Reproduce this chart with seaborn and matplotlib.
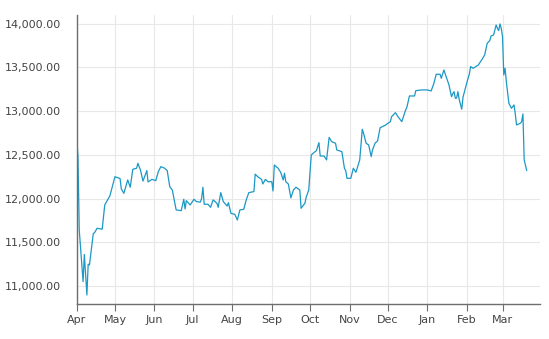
import matplotlib
matplotlib.use("Agg")
import matplotlib.pyplot as plt
import matplotlib.dates as mdates
import matplotlib.ticker as mticker
import numpy as np
import pandas as pd
import seaborn as sns

# Data: days after the start date and the index value
start_date = "2014-04-01"
day_offset = [0, 1, 2, 5, 6, 8, 9, 10, 13, 14, 16, 20, 22, 26, 30, 34, 35, 37, 40, 42,
              44, 47, 48, 50, 52, 55, 56, 59, 62, 64, 66, 69, 71, 73, 75, 78, 82, 84, 85, 86,
              89, 92, 94, 97, 98, 99, 100, 103, 105, 107, 110, 111, 113, 115, 118, 119, 121, 124, 126, 128,
              131, 133, 135, 139, 140, 142, 145, 146, 148, 150, 153, 154, 155, 158, 160, 162, 163, 164, 166, 168,
              170, 172, 175, 176, 179, 180, 182, 184, 186, 188, 190, 191, 194, 196, 198, 200, 203, 204, 208, 210,
              211, 212, 215, 217, 219, 222, 224, 225, 227, 229, 231, 232, 234, 236, 238, 242, 246, 247, 250, 252,
              255, 258, 259, 261, 265, 266, 271, 275, 278, 280, 282, 285, 286, 288, 292, 294, 295, 296, 297, 298,
              299, 300, 302, 303, 306, 308, 309, 311, 313, 315, 318, 320, 322, 324, 325, 327, 329, 330, 331, 332,
              333, 334, 335, 336, 337, 339, 341, 343, 344, 345, 348, 349, 350, 351, 353]
value = [12690, 12480, 11640, 11050, 11360, 10897, 11250, 11240, 11600, 11610, 11660, 11650, 11927, 12030, 12250, 12230, 12110, 12060, 12213, 12130,
         12335, 12347, 12404, 12327, 12200, 12320, 12190, 12220, 12205, 12308, 12365, 12347, 12320, 12136, 12098, 11870, 11862, 11992, 11881, 11976,
         11927, 11992, 11965, 11960, 12003, 12130, 11935, 11935, 11900, 11985, 11946, 11900, 12068, 11965, 11915, 11953, 11830, 11820, 11755, 11870,
         11877, 11985, 12068, 12080, 12280, 12250, 12220, 12167, 12220, 12193, 12193, 12087, 12384, 12347, 12300, 12213, 12290, 12193, 12167, 12008,
         12098, 12130, 12098, 11889, 11946, 12015, 12098, 12499, 12525, 12548, 12640, 12487, 12487, 12442, 12700, 12651, 12633, 12556, 12537, 12347,
         12320, 12232, 12232, 12347, 12300, 12442, 12793, 12747, 12633, 12613, 12480, 12556, 12633, 12659, 12811, 12839, 12880, 12937, 12983, 12937,
         12880, 13014, 13045, 13174, 13174, 13235, 13243, 13243, 13231, 13311, 13422, 13422, 13376, 13471, 13300, 13166, 13200, 13223, 13147, 13150,
         13223, 13136, 13022, 13159, 13326, 13426, 13510, 13490, 13510, 13528, 13594, 13643, 13777, 13807, 13860, 13872, 13986, 13948, 13921, 13998,
         13948, 13852, 13414, 13491, 13337, 13090, 13033, 13071, 12968, 12842, 12862, 12880, 12968, 12442, 12320]

y_ticks = [11000, 11500, 12000, 12500, 13000, 13500, 14000]

base = pd.Timestamp(start_date)
df = pd.DataFrame({"date": base + pd.to_timedelta(day_offset, unit="D"), "value": value})

sns.set_style("white")
plt.rcParams["font.family"] = ["DejaVu Sans"]

fig = plt.figure(figsize=(5.49, 3.39), dpi=100)
ax = fig.add_axes([76.7 / 549, 35 / 339, (540 - 76.7) / 549, (304 - 15) / 339])

sns.lineplot(data=df, x="date", y="value", ax=ax, color="#1b98c5", linewidth=0.9)

ax.set_xlim(base, base + pd.Timedelta(days=363.4))
ax.set_ylim(10794, 14100)
ax.set_yticks(y_ticks)
ax.yaxis.set_major_formatter(mticker.FuncFormatter(lambda v, p: f"{v:,.2f}"))
ax.xaxis.set_major_locator(mdates.MonthLocator())
ax.xaxis.set_major_formatter(mdates.DateFormatter("%b"))

ax.grid(True, color="#e8e8e8", linewidth=0.8)
ax.set_axisbelow(True)
ax.set_xlabel("")
ax.set_ylabel("")
for s in ["top", "right"]:
    ax.spines[s].set_visible(False)
for s in ["left", "bottom"]:
    ax.spines[s].set_color("#6e6e6e")
    ax.spines[s].set_linewidth(1.0)

ax.tick_params(axis="x", length=5, width=0.8, color="#6e6e6e", pad=3, labelsize=8, labelcolor="#444444", bottom=True)
ax.tick_params(axis="y", length=0, pad=11, labelsize=8, labelcolor="#444444")

fig.savefig("out.png", dpi=100, facecolor="white")
